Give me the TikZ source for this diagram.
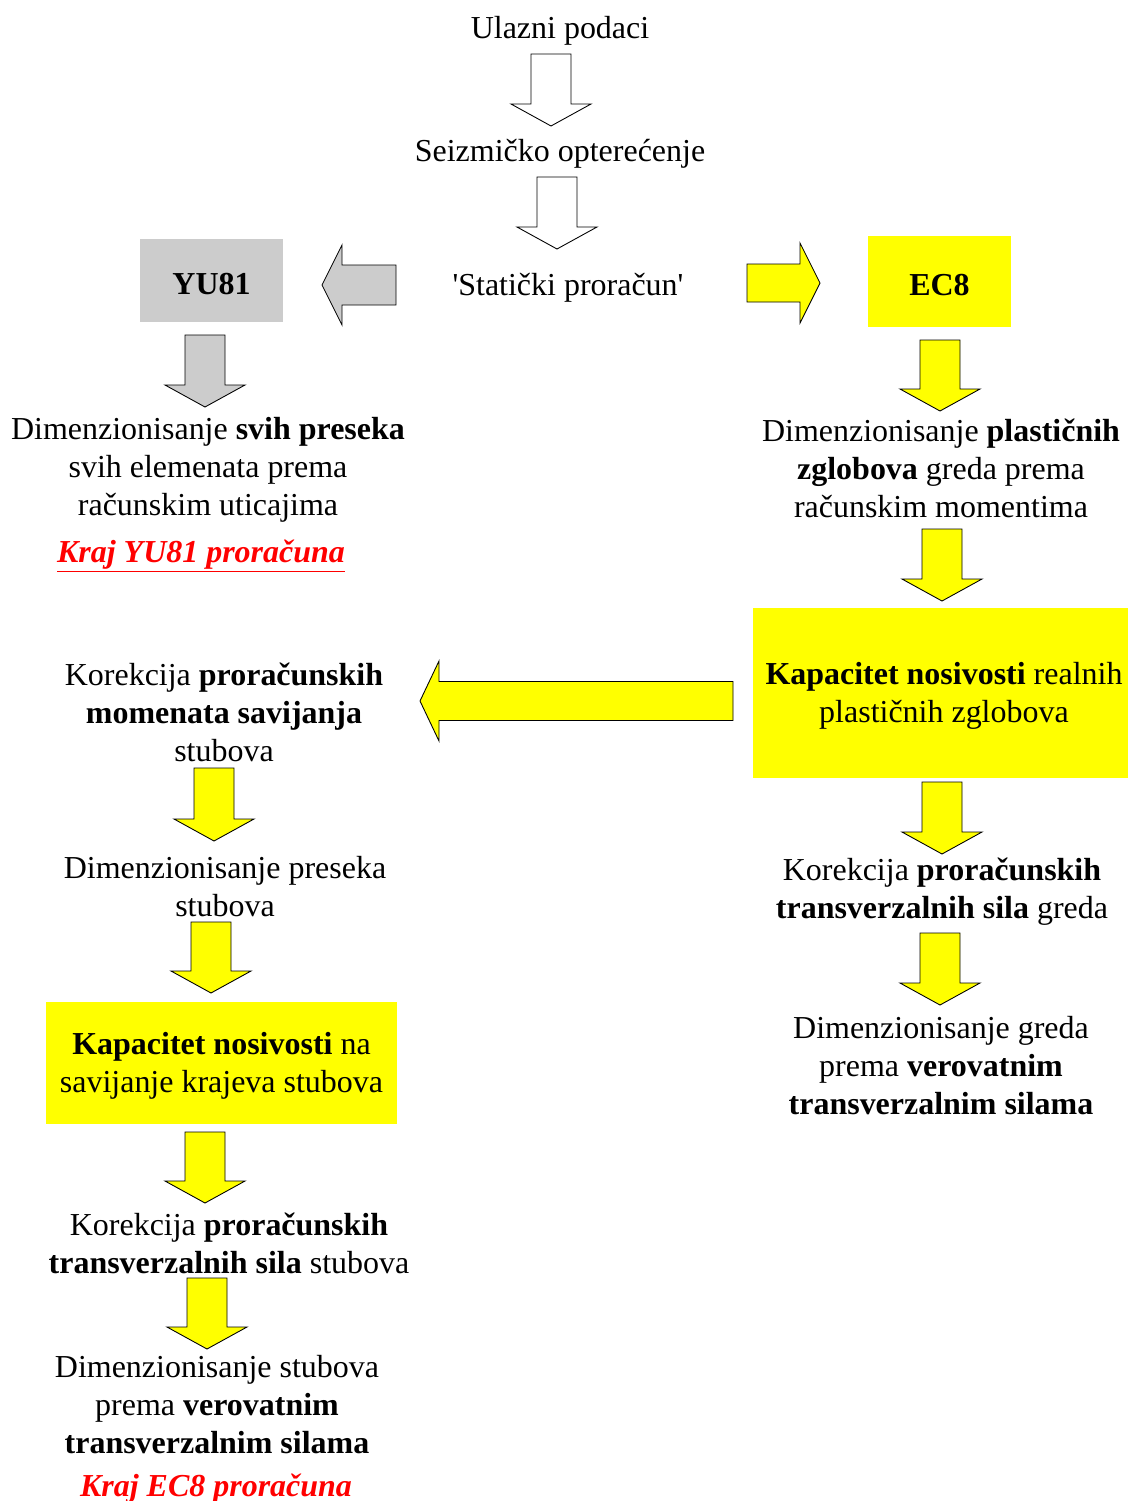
\documentclass[tikz,border=0pt]{standalone}
\usepackage{fontspec}
\setmainfont{Liberation Serif}
\newfontfamily\plainserif{Liberation Serif}
\definecolor{ylw}{HTML}{FFFF00}
\definecolor{gry}{HTML}{CCCCCC}
\definecolor{kraj}{HTML}{FF0000}
\tikzset{
  txt/.style={align=center, font=\fontsize{18.2}{21.6}\selectfont, inner sep=0pt, yshift=-0.065cm},
  endtxt/.style={txt, text=kraj, font=\fontsize{18.2}{21.6}\selectfont\bfseries\itshape},
  graybox/.style={fill=gry, inner sep=0pt},
  ylwbox/.style={fill=ylw, inner sep=0pt},
  blockarrow/.style={draw=black, line width=0.5pt, line join=miter}
}
% down block arrow: fill, centre x, top y, tip y
\newcommand\downblock[4]{%
  \draw[blockarrow, fill=#1] (#2-20,#3) -- (#2+20,#3) -- (#2+20,#4-22) -- (#2+40,#4-22)
    -- (#2,#4) -- (#2-40,#4-22) -- (#2-20,#4-22) -- cycle;}
% horizontal block arrow: fill, tip x, centre y, head base x, tail x, shaft half height
\newcommand\sideblock[6]{%
  \draw[blockarrow, fill=#1] (#2,#3) -- (#4,#3-40) -- (#4,#3-#6) -- (#5,#3-#6)
    -- (#5,#3+#6) -- (#4,#3+#6) -- (#4,#3+40) -- cycle;}
\begin{document}
\begin{tikzpicture}[x=0.02cm, y=-0.02cm]
\useasboundingbox (0,0) rectangle (1128,1501);

% top
\node[txt] (ulaz) at (560,28) {Ulazni podaci};
\downblock{white}{551}{54}{126}
\node[txt] (seiz) at (560,151) {Seizmičko opterećenje};
\downblock{white}{557}{177}{249}
\node[txt] (stat) at (568,285) {{\plainserif'}Statički proračun{\plainserif'}};

% YU81 branch
\sideblock{gry}{322}{285}{342}{396}{20}
\node[graybox, minimum width=2.86cm, minimum height=1.66cm] (yu) at (211.5,280.5) {};
\node[txt, font=\fontsize{18.2}{21.6}\selectfont\bfseries] (yut) at (yu.center) {YU81};
\downblock{gry}{205}{335}{407}
\node[txt] (yudim) at (208,467) {Dimenzionisanje \textbf{svih preseka}\\svih elemenata prema\\računskim uticajima};
\node[endtxt] (yukraj) at (201,553) {\underline{Kraj YU81 proračuna}};

% EC8 branch
\sideblock{ylw}{820}{283}{800}{747}{19}
\node[ylwbox, minimum width=2.86cm, minimum height=1.82cm] (ec) at (939.5,281.5) {};
\node[txt, font=\fontsize{18.2}{21.6}\selectfont\bfseries] (ect) at (ec.center) {EC8};
\downblock{ylw}{940}{340}{411}
\node[txt] (ecdim) at (941,465) {Dimenzionisanje \textbf{plastičnih}\\\textbf{zglobova} greda prema\\računskim momentima};
\downblock{ylw}{942}{529}{601}
\node[ylwbox, minimum width=7.5cm, minimum height=3.4cm] (kap1) at (940.5,693) {};
\node[txt] (kap1t) at (944,693) {\textbf{Kapacitet nosivosti} realnih\\plastičnih zglobova};
\sideblock{ylw}{420}{701}{439}{733}{19.5}

% right column
\downblock{ylw}{942}{782}{854}
\node[txt] (korg) at (942,888.5) {Korekcija \textbf{proračunskih}\\\textbf{transverzalnih sila} greda};
\downblock{ylw}{940}{933}{1005}
\node[txt] (dimg) at (941,1062.5) {Dimenzionisanje greda\\prema \textbf{verovatnim}\\\textbf{transverzalnim silama}};

% left column
\node[txt] (kors) at (224,709) {Korekcija \textbf{proračunskih}\\\textbf{momenata savijanja}\\stubova};
\downblock{ylw}{214}{768}{841}
\node[txt] (dimp) at (225,883) {Dimenzionisanje preseka\\stubova};
\downblock{ylw}{211}{922}{993}
\node[ylwbox, minimum width=7.02cm, minimum height=2.44cm] (kap2) at (221.5,1063) {};
\node[txt] (kap2t) at (kap2.center) {\textbf{Kapacitet nosivosti} na\\savijanje krajeva stubova};
\downblock{ylw}{205}{1132}{1203}
\node[txt] (kort) at (229,1240.5) {Korekcija \textbf{proračunskih}\\\textbf{transverzalnih sila} stubova};
\downblock{ylw}{207}{1278}{1349}
\node[txt] (dims) at (217,1401) {Dimenzionisanje stubova\\prema \textbf{verovatnim}\\\textbf{transverzalnim silama}};
\node[endtxt] (eckraj) at (216,1485) {Kraj EC8 proračuna};
\end{tikzpicture}
\end{document}
